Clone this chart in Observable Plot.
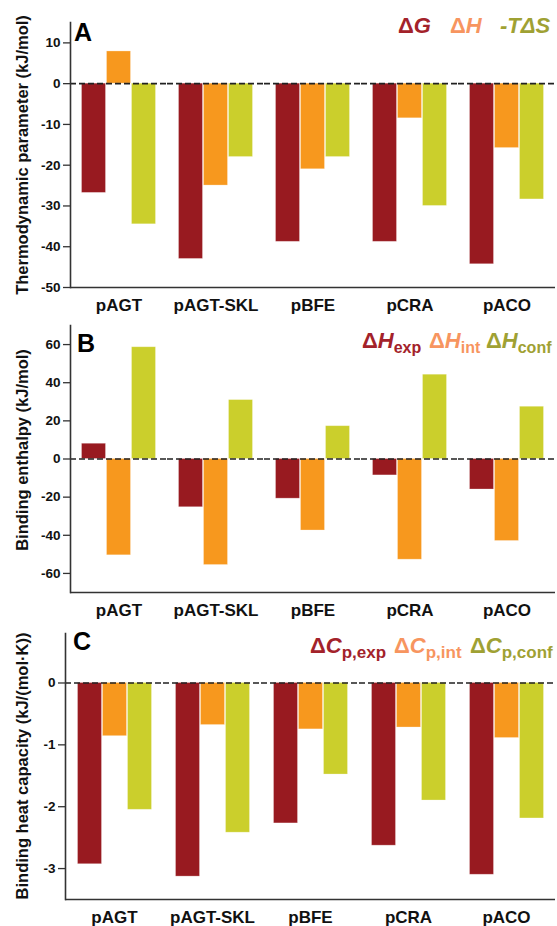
<!DOCTYPE html>
<html><head><meta charset="utf-8">
<script src="https://cdn.jsdelivr.net/npm/d3@7"></script>
<script src="https://cdn.jsdelivr.net/npm/@observablehq/plot@0.6"></script>
<style>
body{margin:0;background:#fff;}
#wrap{position:relative;width:557px;height:926px;font-family:"Liberation Sans",Arial,sans-serif;background:#fff;}
#wrap > svg{display:block}
#overlay{position:absolute;left:0;top:0;pointer-events:none;}
</style></head><body><div id="wrap"></div>
<script>
// ---- data ----
const categories = ["pAGT", "pAGT-SKL", "pBFE", "pCRA", "pACO"];
const seriesKeys = ["s1", "s2", "s3"];

// Panel A: thermodynamic parameters (kJ/mol)
const aDeltaG = [-26.8, -43.0, -38.8, -38.8, -44.3];
const aDeltaH = [7.9, -25.0, -21.0, -8.5, -15.8];
const aMinusTdS = [-34.5, -18.0, -18.0, -30.0, -28.4];
const aTicks = [-50, -40, -30, -20, -10, 0, 10];

// Panel B: binding enthalpy (kJ/mol)
const bHexp = [8.0, -25.3, -20.8, -8.6, -16.0];
const bHint = [-50.5, -55.6, -37.5, -52.8, -43.0];
const bHconf = [58.6, 30.9, 17.2, 44.2, 27.4];
const bTicks = [-60, -40, -20, 0, 20, 40, 60];

// Panel C: binding heat capacity (kJ/(mol·K))
const cCpexp = [-2.93, -3.13, -2.27, -2.63, -3.10];
const cCpint = [-0.86, -0.68, -0.75, -0.72, -0.89];
const cCpconf = [-2.05, -2.42, -1.48, -1.90, -2.19];
const cTicks = [-3, -2, -1, 0];

const barColors = ["#981a20", "#f7981e", "#cbcf2c"];

function table(series) {
  return categories.flatMap((c, i) => series.map((vals, j) => ({cat: c, s: seriesKeys[j], value: vals[i]})));
}

const FONT = '"Liberation Sans", Arial, Helvetica, sans-serif';

function panel({data, yDomain, yTicks, height, marginTop, marginBottom, marginLeft, marginRight}) {
  return Plot.plot({
    width: 557, height, marginTop, marginBottom, marginLeft, marginRight,
    style: {fontFamily: FONT, fontWeight: "bold", color: "#111", background: "white", overflow: "visible"},
    fx: {domain: categories, padding: 0},
    x: {domain: seriesKeys, paddingInner: 0, paddingOuter: 0.4, axis: null},
    y: {domain: yDomain},
    color: {type: "ordinal", domain: seriesKeys, range: barColors},
    marks: [
      Plot.barY(data, {fx: "cat", x: "s", y: "value", fill: "s", insetLeft: 0.5, insetRight: 0.5,
        stroke: "white", strokeOpacity: 0.35, strokeWidth: 0.8}),
      Plot.ruleY([0], {stroke: "#222", strokeWidth: 1.7, strokeDasharray: "6,3"}),
      Plot.ruleY([yDomain[0]], {stroke: "#333", strokeWidth: 1.6}),
      Plot.frame({anchor: "left", facetAnchor: "left", stroke: "#333", strokeWidth: 1.6}),
      Plot.axisY({ticks: yTicks, tickFormat: d => String(d), tickSize: 7, tickPadding: 3,
        fontSize: 13.5, label: null, stroke: "#333", strokeWidth: 1.3}),
      Plot.axisFx({anchor: "bottom", tickSize: 0, tickPadding: 11, fontSize: 17, label: null})
    ]
  });
}

const wrap = document.getElementById("wrap");
wrap.append(panel({data: table([aDeltaG, aDeltaH, aMinusTdS]), yDomain: [-50, 15], yTicks: aTicks,
  height: 310, marginTop: 22, marginBottom: 23, marginLeft: 68, marginRight: 0}));
wrap.append(panel({data: table([bHexp, bHint, bHconf]), yDomain: [-70, 70], yTicks: bTicks,
  height: 307, marginTop: 15, marginBottom: 25, marginLeft: 68, marginRight: 0}));
wrap.append(panel({data: table([cCpexp, cCpint, cCpconf]), yDomain: [-3.5, 0.8], yTicks: cTicks,
  height: 309, marginTop: 16, marginBottom: 27, marginLeft: 65, marginRight: 2}));

// ---- text overlay: axis titles, panel letters, legends ----
const ns = "http://www.w3.org/2000/svg";
const ov = document.createElementNS(ns, "svg");
ov.setAttribute("id", "overlay");
ov.setAttribute("width", 557); ov.setAttribute("height", 926);
ov.setAttribute("font-family", FONT);
ov.setAttribute("font-weight", "bold");
ov.innerHTML = `
<g font-size="16.5" fill="#111" text-anchor="middle">
  <text transform="translate(22,155) rotate(-90)" dominant-baseline="central">Thermodynamic parameter (kJ/mol)</text>
  <text transform="translate(22,450) rotate(-90)" dominant-baseline="central">Binding enthalpy (kJ/mol)</text>
  <text transform="translate(22,766) rotate(-90)" dominant-baseline="central">Binding heat capacity (kJ/(mol·K))</text>
</g>
<g font-size="25" fill="#000">
  <text x="74" y="41">A</text>
  <text x="77" y="352">B</text>
  <text x="73" y="650">C</text>
</g>
<g font-size="22">
  <text x="398" y="33" fill="#a3222a">Δ<tspan font-style="italic">G</tspan></text>
  <text x="450" y="33" fill="#f7955f">Δ<tspan font-style="italic">H</tspan></text>
  <text x="500" y="33" fill="#9fa133" font-style="italic">-TΔS</text>
</g>
<g font-size="22">
  <text x="362" y="348" fill="#a3222a">Δ<tspan font-style="italic">H</tspan><tspan font-size="16" dy="5">exp</tspan></text>
  <text x="429" y="348" fill="#f7955f">Δ<tspan font-style="italic">H</tspan><tspan font-size="16" dy="5">int</tspan></text>
  <text x="486" y="348" fill="#9fa133">Δ<tspan font-style="italic">H</tspan><tspan font-size="16" dy="5">conf</tspan></text>
</g>
<g font-size="22">
  <text x="310" y="653" fill="#a3222a">Δ<tspan font-style="italic">C</tspan><tspan font-size="17" dy="5">p,exp</tspan></text>
  <text x="394" y="653" fill="#f7955f">Δ<tspan font-style="italic">C</tspan><tspan font-size="17" dy="5">p,int</tspan></text>
  <text x="470" y="653" fill="#9fa133">Δ<tspan font-style="italic">C</tspan><tspan font-size="17" dy="5">p,conf</tspan></text>
</g>`;
wrap.append(ov);
</script></body></html>
